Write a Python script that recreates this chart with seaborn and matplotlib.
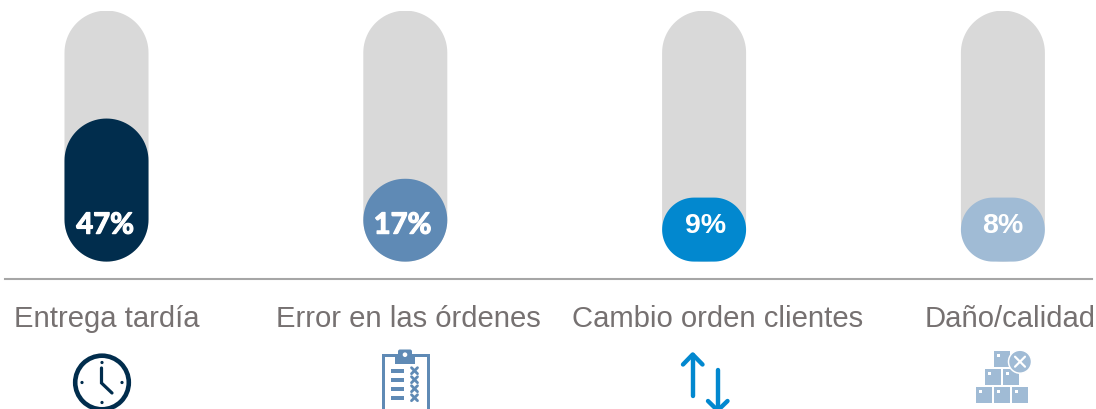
import numpy as np
import pandas as pd
import seaborn as sns
import matplotlib
matplotlib.use("Agg")
import matplotlib.pyplot as plt
import matplotlib.patheffects as pe
from matplotlib.patches import PathPatch, Circle, Rectangle, FancyBboxPatch
from matplotlib.path import Path

categories = ["Entrega tardía", "Error en las órdenes", "Cambio orden clientes", "Daño/calidad"]
percent_labels = ["47%", "17%", "9%", "8%"]
# Height of the coloured pill, as a share of the grey track
fill_level = [57.0, 33.0, 25.5, 25.5]
track_level = [100, 100, 100, 100]

DARK, MID, BLUE, PALE = "#012D4D", "#5F8AB5", "#0288CF", "#A0BBD5"
colors = [DARK, MID, BLUE, PALE]
TRACK = "#D9D9D9"
TEXT = "#767171"
LINE = "#A6A6A6"
W, H = 1096, 410

sns.set_theme(style="white")
plt.rcParams["font.family"] = ["Liberation Sans", "DejaVu Sans"]

fig = plt.figure(figsize=(W / 100, H / 100), dpi=100, facecolor="white")
left, right, top, bottom = 5, 1092, 11.6, 279.6
ax = fig.add_axes([left / W, (H - bottom) / H, (right - left) / W, (bottom - top) / H])

df = pd.DataFrame({"cat": categories, "track": track_level, "fill": fill_level})
BAR_W = 84 / 298.8
sns.barplot(data=df, x="cat", y="track", color=TRACK, saturation=1, width=BAR_W, ax=ax)
sns.barplot(data=df, x="cat", y="fill", hue="cat", palette=colors, saturation=1,
            width=BAR_W, legend=False, ax=ax)

px_x = 298.8
px_y = 251 / 100
ax.set_xlim((left - 106.5) / px_x, (right - 106.5) / px_x)
ax.set_ylim(-17 / px_y, 100)


def pill(x0, x1, y1, px_x, px_y):
    """Rounded outline of a bar standing on y=0; radius is set in pixels."""
    w = (x1 - x0) * px_x
    h = y1 * px_y
    r = min(w, h) / 2
    rx, ry = r / px_x, r / px_y
    t = np.linspace(0, np.pi / 2, 24)
    pts = []
    for cx, cy, a0 in [(x1 - rx, y1 - ry, 0), (x0 + rx, y1 - ry, np.pi / 2),
                       (x0 + rx, ry, np.pi), (x1 - rx, ry, 1.5 * np.pi)]:
        pts.extend(zip(cx + rx * np.cos(t + a0), cy + ry * np.sin(t + a0)))
    pts.append(pts[0])
    return Path(pts, closed=True)


for bar in list(ax.patches):
    x0, w, h = bar.get_x(), bar.get_width(), bar.get_height()
    if not h:
        continue
    ax.add_patch(PathPatch(pill(x0, x0 + w, h, px_x, px_y), facecolor=bar.get_facecolor(),
                           edgecolor="none", zorder=3 if h < 100 else 2))
    bar.remove()

sns.despine(ax=ax, left=True, bottom=False, top=True, right=True)
ax.spines["bottom"].set_color(LINE)
ax.spines["bottom"].set_linewidth(1.5)
ax.set_xlabel("")
ax.set_ylabel("")
ax.set_yticks([])
ax.set_xticks(range(len(categories)))
ax.set_xticklabels([])
ax.tick_params(length=0)
ax.patch.set_alpha(0)

# Percent labels
bold_fonts = ["Lato", "Lato", "Liberation Sans", "Liberation Sans"]
pct_shift = [-1, -2, 1, 0]
for i, (s, f, dx) in enumerate(zip(percent_labels, bold_fonts, pct_shift)):
    rise = 28 if f == "Lato" else 29.5
    t = ax.annotate(s, xy=(i, 0), xytext=(dx, rise * 0.72), textcoords="offset points",
                    ha="center", va="baseline", color="white", fontsize=21 if f == "Lato" else 20.5,
                    family=f, weight="bold", zorder=5)
    if f == "Lato":
        t.set_path_effects([pe.withStroke(linewidth=0.9, foreground="white")])

# Category labels (below the baseline rule)
label_shift = [0, 3, 13.5, 7.5]
for i, (s, dx) in enumerate(zip(categories, label_shift)):
    ax.annotate(s, xy=(i, 0), xycoords=("data", "axes fraction"), xytext=(dx * 0.72, -47.5 * 0.72),
                textcoords="offset points", ha="center", va="baseline", color=TEXT, fontsize=21.1)

# Icons, on an overlay in pixel coordinates
ic = fig.add_axes([0, 0, 1, 1])
ic.set_xlim(0, W)
ic.set_ylim(H, 0)
ic.axis("off")
ic.patch.set_alpha(0)
PT = 0.72

# clock
ic.add_patch(Circle((102, 383.5), 26.8, fc="none", ec=DARK, lw=4.6 * PT))
for dx, dy in [(0, -20), (0, 20), (-20, 0), (20, 0)]:
    ic.add_patch(Circle((102 + dx, 383.5 + dy), 1.6, fc=DARK, ec="none"))
ic.plot([101.5, 101.5, 112], [369, 384, 394], color=DARK, lw=3.2 * PT, solid_joinstyle="miter")

# clipboard
ic.add_patch(Rectangle((382.5, 356), 45, 70, fc="white", ec=MID, lw=3 * PT))
ic.add_patch(Rectangle((395, 356), 20, 8.5, fc=MID, ec="none"))
ic.add_patch(FancyBboxPatch((398, 350.5), 14, 8, boxstyle="round,pad=0,rounding_size=2", fc=MID, ec="none"))
ic.add_patch(Circle((405, 355.7), 2.3, fc="white", ec="none"))
for y in [371.7, 380.7, 389.7, 398.7]:
    ic.add_patch(Rectangle((391, y - 2), 13, 4, fc=MID, ec="none"))
    ic.plot([411.5, 417.5], [y - 3, y + 3], color=MID, lw=2.8 * PT)
    ic.plot([411.5, 417.5], [y + 3, y - 3], color=MID, lw=2.8 * PT)

# arrows
ic.plot([692.7, 692.7], [356, 397], color=BLUE, lw=4.4 * PT, solid_capstyle="round")
ic.plot([683, 692.7, 702.5], [365.5, 355.5, 365.5], color=BLUE, lw=4.4 * PT,
        solid_capstyle="round", solid_joinstyle="round")
ic.plot([717.7, 717.7], [370.5, 411], color=BLUE, lw=4.4 * PT, solid_capstyle="round")
ic.plot([708, 717.7, 727.5], [402, 411.5, 402], color=BLUE, lw=4.4 * PT,
        solid_capstyle="round", solid_joinstyle="round")

# boxes
for x, y in [(994, 352), (985, 370), (1003, 370), (976, 388), (994, 388), (1012, 388)]:
    ic.add_patch(Rectangle((x, y), 16, 16, fc=PALE, ec="none"))
    ic.add_patch(Rectangle((x + 2.5, y + 2.5), 3, 3, fc="white", ec="none"))
ic.add_patch(Circle((1020, 362.7), 11.5, fc=PALE, ec="white", lw=1.5 * PT))
ic.plot([1015, 1025], [357.7, 367.7], color="white", lw=2.2 * PT)
ic.plot([1015, 1025], [367.7, 357.7], color="white", lw=2.2 * PT)

fig.savefig("out.png", dpi=100, facecolor="white")
